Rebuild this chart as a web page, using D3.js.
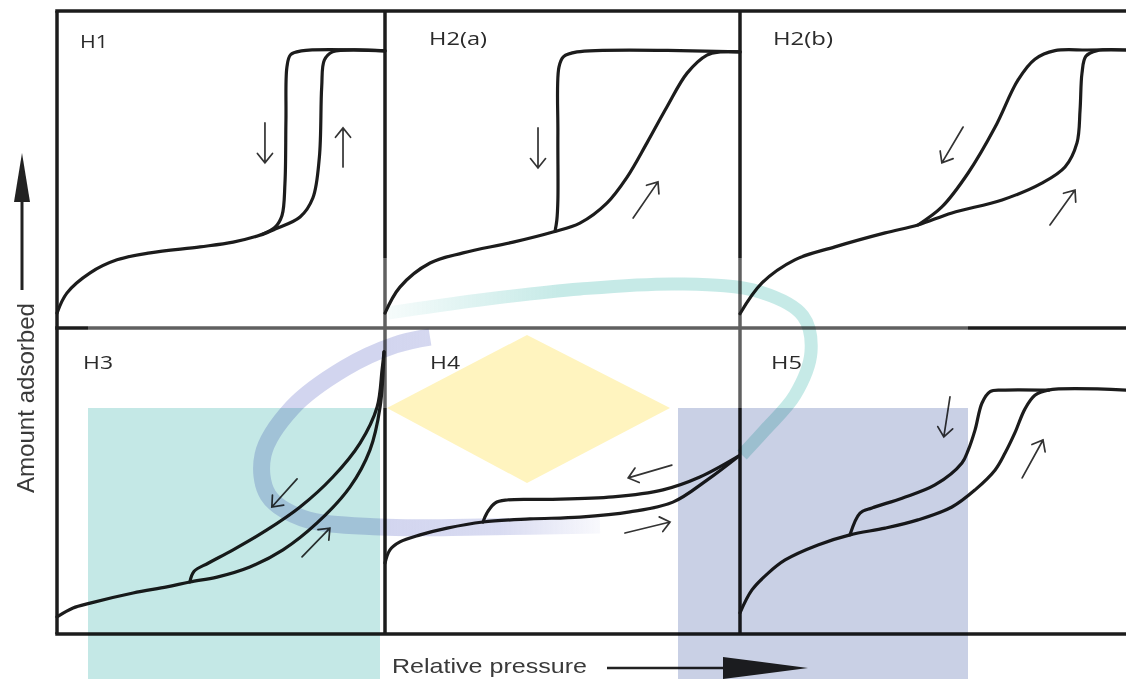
<!DOCTYPE html>
<html>
<head>
<meta charset="utf-8">
<script src="https://cdn.jsdelivr.net/npm/d3@7"></script>
<style>
  html, body { margin: 0; padding: 0; background: #fff; }
  svg { display: block; }
</style>
</head>
<body>
<svg id="chart" width="1126" height="679"></svg>
<script>
// Hysteresis loop types: every panel holds an adsorption branch and a
// desorption branch as [relative pressure, amount adsorbed], each scaled 0–1
// inside its own panel.
const panelNames = ["H1", "H2(a)", "H2(b)", "H3", "H4", "H5"];

const adsH1 = [[0,0.047],[0.030,0.110],[0.101,0.174],[0.183,0.215],[0.284,0.237],[0.436,0.256],[0.537,0.271],[0.619,0.293],[0.665,0.312],[0.741,0.350],[0.780,0.410],[0.800,0.540],[0.807,0.760],[0.815,0.845],[0.840,0.871],[1.0,0.874]];
const desH1 = [[0.625,0.295],[0.665,0.318],[0.686,0.355],[0.695,0.457],[0.698,0.656],[0.701,0.823],[0.712,0.862],[0.745,0.874],[1.0,0.874]];

const adsH2a = [[0,0.047],[0.042,0.129],[0.127,0.205],[0.220,0.237],[0.361,0.271],[0.473,0.303],[0.549,0.331],[0.625,0.394],[0.682,0.476],[0.738,0.584],[0.794,0.697],[0.851,0.804],[0.907,0.861],[0.944,0.871],[1.0,0.871]];
const desH2a = [[0.479,0.305],[0.484,0.340],[0.487,0.404],[0.487,0.615],[0.490,0.823],[0.503,0.856],[0.541,0.871],[1.0,0.871]];

const adsH2b = [[0,0.045],[0.057,0.142],[0.142,0.215],[0.246,0.256],[0.376,0.300],[0.461,0.325],[0.549,0.363],[0.679,0.404],[0.782,0.457],[0.842,0.508],[0.873,0.584],[0.881,0.688],[0.886,0.804],[0.896,0.857],[0.925,0.875],[1.0,0.877]];
const desH2b = [[0.461,0.325],[0.523,0.382],[0.591,0.489],[0.661,0.634],[0.720,0.782],[0.764,0.848],[0.816,0.875],[0.900,0.877],[1.0,0.877]];

const adsH3 = [[0,0.056],[0.049,0.085],[0.101,0.101],[0.232,0.134],[0.335,0.154],[0.405,0.170],[0.488,0.186],[0.588,0.219],[0.689,0.275],[0.793,0.363],[0.893,0.480],[0.954,0.601],[0.985,0.742],[0.997,0.922]];
const desH3 = [[0.405,0.170],[0.418,0.205],[0.462,0.232],[0.537,0.275],[0.640,0.340],[0.741,0.415],[0.841,0.513],[0.924,0.624],[0.976,0.742],[0.991,0.863],[0.997,0.922]];

const adsH4 = [[0,0.232],[0.014,0.275],[0.042,0.301],[0.099,0.324],[0.175,0.346],[0.276,0.366],[0.408,0.376],[0.549,0.382],[0.690,0.399],[0.811,0.431],[0.907,0.503],[0.997,0.582]];
const desH4 = [[0.276,0.366],[0.287,0.395],[0.310,0.428],[0.344,0.438],[0.456,0.440],[0.642,0.448],[0.783,0.471],[0.887,0.513],[0.997,0.582]];

const adsH5 = [[0,0.069],[0.031,0.144],[0.073,0.199],[0.117,0.242],[0.202,0.291],[0.285,0.324],[0.376,0.346],[0.461,0.373],[0.549,0.415],[0.609,0.471],[0.661,0.536],[0.687,0.592],[0.712,0.657],[0.738,0.735],[0.764,0.780],[0.798,0.797],[1.0,0.797]];
const desH5 = [[0.285,0.324],[0.311,0.395],[0.342,0.412],[0.420,0.444],[0.505,0.487],[0.575,0.559],[0.591,0.600],[0.609,0.667],[0.627,0.755],[0.648,0.792],[0.680,0.797],[0.800,0.797]];

// Direction arrows: [p start, amount start, p end, amount end]
const arrowsH1  = [[0.634,0.647,0.634,0.521],[0.872,0.508,0.872,0.631]];
const arrowsH2a = [[0.431,0.631,0.431,0.505],[0.699,0.347,0.769,0.461]];
const arrowsH2b = [[0.578,0.634,0.523,0.521],[0.803,0.325,0.868,0.435]];
const arrowsH3  = [[0.732,0.507,0.655,0.415],[0.747,0.252,0.832,0.346]];
const arrowsH4  = [[0.808,0.552,0.685,0.510],[0.676,0.330,0.803,0.366]];
const arrowsH5  = [[0.544,0.775,0.528,0.644],[0.731,0.510,0.785,0.634]];

const adsorption = [adsH1, adsH2a, adsH2b, adsH3, adsH4, adsH5];
const desorption = [desH1, desH2a, desH2b, desH3, desH4, desH5];
const arrows = [arrowsH1, arrowsH2a, arrowsH2b, arrowsH3, arrowsH4, arrowsH5];

const yAxisLabel = "Amount adsorbed";
const xAxisLabel = "Relative pressure";

// ---- layout ----
const colEdges = [57, 385, 740, 1126];
const rowEdges = [11, 328, 634];
const svg = d3.select("#chart");
const ink = "#1c1c1c";

const panels = panelNames.map((name, i) => {
  const col = i % 3, row = Math.floor(i / 3);
  return {
    name, ads: adsorption[i], des: desorption[i], arrows: arrows[i],
    x: d3.scaleLinear().domain([0, 1]).range([colEdges[col], colEdges[col + 1]]),
    y: d3.scaleLinear().domain([0, 1]).range([rowEdges[row + 1], rowEdges[row]]),
    col, row
  };
});

// ---- panel frame ----
const frame = svg.append("g").attr("stroke", ink).attr("stroke-width", 3.5).attr("fill", "none");
const left = colEdges[0], right = colEdges[3];
rowEdges.forEach(yv => frame.append("line").attr("x1", left - 1.75).attr("x2", right).attr("y1", yv).attr("y2", yv));
colEdges.slice(0, 3).forEach(xv => frame.append("line").attr("x1", xv).attr("x2", xv).attr("y1", rowEdges[0]).attr("y2", rowEdges[2]));

// soft white veil over the middle band of the frame
svg.append("rect").attr("x", 88).attr("y", 258).attr("width", 880).attr("height", 150)
  .attr("fill", "#fff").attr("opacity", 0.3);

// ---- isotherm branches ----
const branchLayer = svg.append("g");
panels.forEach(p => {
  const line = d3.line().x(d => p.x(d[0])).y(d => p.y(d[1])).curve(d3.curveCatmullRom.alpha(0.5));
  [p.ads, p.des].forEach(branch => {
    branchLayer.append("path").attr("d", line(branch))
      .attr("fill", "none").attr("stroke", ink).attr("stroke-width", 3.2)
      .attr("stroke-linejoin", "round").attr("stroke-linecap", "round");
  });

  // direction arrows with open heads
  p.arrows.forEach(a => {
    const x1 = p.x(a[0]), y1 = p.y(a[1]), x2 = p.x(a[2]), y2 = p.y(a[3]);
    const ang = Math.atan2(y2 - y1, x2 - x1), L = 12, th = 0.68;
    const h1 = [x2 - L * Math.cos(ang - th), y2 - L * Math.sin(ang - th)];
    const h2 = [x2 - L * Math.cos(ang + th), y2 - L * Math.sin(ang + th)];
    branchLayer.append("path")
      .attr("d", `M${x1},${y1}L${x2},${y2}M${h1[0]},${h1[1]}L${x2},${y2}L${h2[0]},${h2[1]}`)
      .attr("fill", "none").attr("stroke", "#333").attr("stroke-width", 1.7)
      .attr("stroke-linejoin", "miter").attr("stroke-linecap", "round");
  });
});

// ---- panel names ----
const nameWidth = { "H1": 28, "H2(a)": 58, "H2(b)": 60, "H3": 30, "H4": 30, "H5": 31 };
const nameOffset = { "H1": [23, 37], "H2(a)": [44, 34], "H2(b)": [33, 34], "H3": [26, 41], "H4": [45, 41], "H5": [31, 41] };
panels.forEach(p => {
  const [dx, dy] = nameOffset[p.name];
  svg.append("text")
    .attr("x", colEdges[p.col] + dx).attr("y", rowEdges[p.row] + dy)
    .attr("font-family", "'Open Sans', 'Noto Sans', sans-serif").attr("font-size", 18)
    .attr("fill", "#2a2a2a")
    .attr("textLength", nameWidth[p.name]).attr("lengthAdjust", "spacingAndGlyphs")
    .text(p.name);
});

// ---- axis captions with arrows ----
svg.append("text")
  .attr("transform", "translate(34,398) rotate(-90)")
  .attr("text-anchor", "middle")
  .attr("font-family", "'Liberation Sans', Arial, sans-serif").attr("font-size", 24)
  .attr("fill", "#3a3a3a")
  .attr("textLength", 190).attr("lengthAdjust", "spacingAndGlyphs")
  .text(yAxisLabel);
svg.append("line").attr("x1", 22).attr("x2", 22).attr("y1", 290).attr("y2", 198)
  .attr("stroke", "#222").attr("stroke-width", 3);
svg.append("path").attr("d", "M14,202L22,153L30,202Z").attr("fill", "#222");

svg.append("text")
  .attr("x", 392).attr("y", 673)
  .attr("font-family", "'Liberation Sans', Arial, sans-serif").attr("font-size", 21)
  .attr("fill", "#3a3a3a")
  .attr("textLength", 195).attr("lengthAdjust", "spacingAndGlyphs")
  .text(xAxisLabel);
svg.append("line").attr("x1", 607).attr("x2", 726).attr("y1", 668).attr("y2", 668)
  .attr("stroke", "#222").attr("stroke-width", 2.5);
svg.append("path").attr("d", "M723,657L808,668L723,679Z").attr("fill", "#222");

// ---- translucent emblem laid over the figure ----
const defs = svg.append("defs");
const gTeal = defs.append("linearGradient").attr("id", "fadeTeal")
  .attr("gradientUnits", "userSpaceOnUse").attr("x1", 385).attr("x2", 560).attr("y1", 0).attr("y2", 0);
gTeal.append("stop").attr("offset", 0).attr("stop-color", "#c6eae7").attr("stop-opacity", 0.15);
gTeal.append("stop").attr("offset", 1).attr("stop-color", "#c6eae7").attr("stop-opacity", 1);
const gPurple = defs.append("linearGradient").attr("id", "fadePurple")
  .attr("gradientUnits", "userSpaceOnUse").attr("x1", 380).attr("x2", 620).attr("y1", 0).attr("y2", 0);
gPurple.append("stop").attr("offset", 0).attr("stop-color", "#d2d5ef").attr("stop-opacity", 1);
gPurple.append("stop").attr("offset", 0.5).attr("stop-color", "#d2d5ef").attr("stop-opacity", 0.85);
gPurple.append("stop").attr("offset", 1).attr("stop-color", "#d2d5ef").attr("stop-opacity", 0);

const emblem = svg.append("g");
const mult = sel => sel.style("mix-blend-mode", "multiply");
mult(emblem.append("rect").attr("x", 88).attr("y", 408).attr("width", 292).attr("height", 271).attr("fill", "#c4e8e6"));
mult(emblem.append("rect").attr("x", 678).attr("y", 408).attr("width", 290).attr("height", 271).attr("fill", "#c9d0e5"));
mult(emblem.append("path").attr("d", "M527,335L670,408L527,483L387,408Z").attr("fill", "#fff4bf"));

const swoosh = d3.line().curve(d3.curveCatmullRom.alpha(0.5));
mult(emblem.append("path")
  .attr("d", swoosh([[388,313],[480,300],[580,289],[680,284],[760,292],[803,316],[811,352],[795,395],[765,430],[742,455]]))
  .attr("fill", "none").attr("stroke", "url(#fadeTeal)").attr("stroke-width", 13));
mult(emblem.append("path")
  .attr("d", swoosh([[430,337],[395,345],[345,368],[292,408],[263,455],[268,495],[302,518],[380,527],[480,527],[600,525]]))
  .attr("fill", "none").attr("stroke", "url(#fadePurple)").attr("stroke-width", 17));
</script>
</body>
</html>
